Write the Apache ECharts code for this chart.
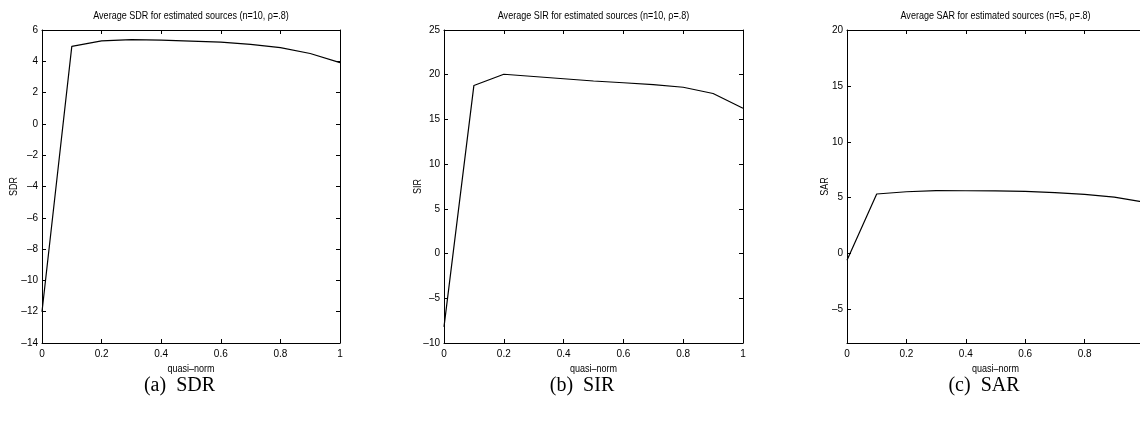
<!DOCTYPE html>
<html>
<head>
<meta charset="utf-8">
<script src="https://cdn.jsdelivr.net/npm/echarts@6/dist/echarts.min.js"></script>
<style>
html,body{margin:0;padding:0;background:#fff;overflow:hidden;width:1140px;height:423px;}
#c{width:1150px;height:423px;}
</style>
</head>
<body>
<div id="c"></div>
<script>
// ---- data ----
const qNorm = [0, 0.1, 0.2, 0.3, 0.4, 0.5, 0.6, 0.7, 0.8, 0.9, 1.0];
const sdrValues = [-12.0, 4.95, 5.3, 5.38, 5.35, 5.29, 5.22, 5.08, 4.87, 4.5, 3.92];
const sirValues = [-8.2, 18.8, 20.05, 19.8, 19.55, 19.3, 19.1, 18.9, 18.6, 17.9, 16.25];
const sarValues = [-0.6, 5.33, 5.53, 5.63, 5.62, 5.6, 5.56, 5.45, 5.3, 5.05, 4.6];
const sarTicks = [-5, 0, 5, 10, 15, 20];
const titles = [
  'Average SDR for estimated sources (n=10, \u03c1=.8)',
  'Average SIR for estimated sources (n=10, \u03c1=.8)',
  'Average SAR for estimated sources (n=5, \u03c1=.8)'
];
const yNames = ['SDR', 'SIR', 'SAR'];
const xName = 'quasi\u2013norm';
const captions = ['(a)  SDR', '(b)  SIR', '(c)  SAR'];

// ---- layout ----
const grids = [
  {left: 42, top: 30, width: 298, height: 313},
  {left: 444, top: 30, width: 299, height: 313},
  {left: 847, top: 30, width: 297, height: 313}
];
const yRanges = [
  {min: -14, max: 6, interval: 2},
  {min: -10, max: 25, interval: 5},
  {min: -8, max: 20}
];
const yNameX = [14, 418, 825];
const seriesData = [sdrValues, sirValues, sarValues];

const FONT = 'Liberation Sans, Arial, sans-serif';
const lineStyle = {color: '#000', width: 1};
const fmtNum = v => String(v).replace('-', '\u2013');
const SX = 0.82;

const xAxes = [], yAxes = [], series = [], graphics = [];
grids.forEach((g, i) => {
  xAxes.push({
    type: 'value', gridIndex: i, position: 'bottom', min: 0, max: 1, interval: 0.2,
    axisLine: {show: true, onZero: false, lineStyle}, splitLine: {show: false},
    axisTick: {show: true, inside: true, length: 4, lineStyle},
    axisLabel: {show: true, color: '#000', fontFamily: FONT, fontSize: 10, margin: 6}
  });
  xAxes.push({
    type: 'value', gridIndex: i, position: 'top', min: 0, max: 1, interval: 0.2,
    axisLine: {show: true, onZero: false, lineStyle}, splitLine: {show: false},
    axisTick: {show: true, inside: true, length: 4, lineStyle},
    axisLabel: {show: false}
  });
  const yr = yRanges[i];
  const yBase = {
    type: 'value', gridIndex: i, min: yr.min, max: yr.max,
    splitLine: {show: false}
  };
  if (yr.interval) yBase.interval = yr.interval;
  const tickCfg = {show: true, inside: true, length: 4, lineStyle};
  const labelCfg = {show: true, color: '#000', fontFamily: FONT, fontSize: 10, margin: 4, formatter: fmtNum};
  if (!yr.interval) {
    tickCfg.customValues = sarTicks;
    labelCfg.customValues = sarTicks;
  }
  yAxes.push(Object.assign({}, yBase, {
    position: 'left',
    axisLine: {show: true, onZero: false, lineStyle},
    axisTick: tickCfg, axisLabel: labelCfg
  }));
  yAxes.push(Object.assign({}, yBase, {
    position: 'right',
    axisLine: {show: true, onZero: false, lineStyle},
    axisTick: Object.assign({}, tickCfg), axisLabel: {show: false}
  }));
  series.push({
    type: 'line', xAxisIndex: i * 2, yAxisIndex: i * 2,
    data: qNorm.map((x, k) => [x, seriesData[i][k]]),
    showSymbol: false, symbol: 'none', lineStyle: {color: '#000', width: 1.2},
    animation: false
  });
  const cx = g.left + g.width / 2;
  graphics.push({
    type: 'text', x: cx, y: 16, scaleX: SX,
    style: {text: titles[i], fill: '#000', font: '11px ' + FONT, textAlign: 'center', textVerticalAlign: 'middle'}
  });
  graphics.push({
    type: 'text', x: cx, y: 369, scaleX: SX,
    style: {text: xName, fill: '#000', font: '11px ' + FONT, textAlign: 'center', textVerticalAlign: 'middle'}
  });
  graphics.push({
    type: 'text', x: yNameX[i], y: g.top + g.height / 2, rotation: Math.PI / 2, scaleX: SX,
    style: {text: yNames[i], fill: '#000', font: '11px ' + FONT, textAlign: 'center', textVerticalAlign: 'middle'}
  });
  graphics.push({
    type: 'text', x: cx - 11.5, y: 386,
    style: {text: captions[i], fill: '#000', font: '20px "Liberation Serif", "Times New Roman", serif', textAlign: 'center', textVerticalAlign: 'middle'}
  });
});

const chart = echarts.init(document.getElementById('c'), null, {renderer: 'canvas'});
chart.setOption({
  animation: false,
  backgroundColor: '#fff',
  grid: grids.map(g => Object.assign({containLabel: false}, g)),
  xAxis: xAxes,
  yAxis: yAxes,
  series: series,
  graphic: graphics
});
</script>
</body>
</html>
